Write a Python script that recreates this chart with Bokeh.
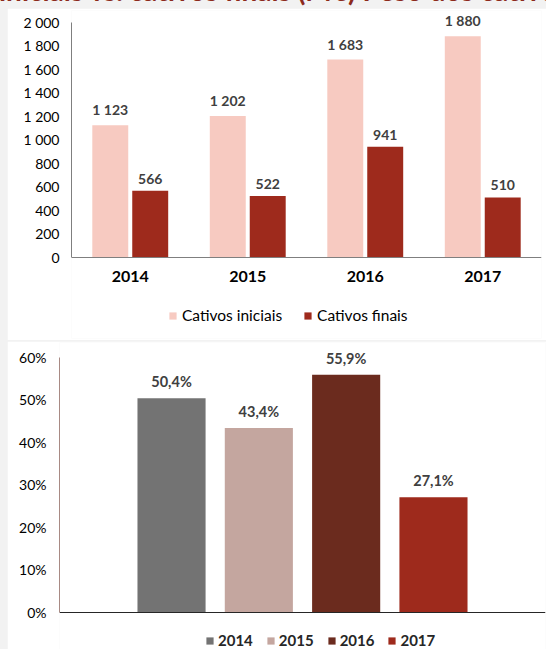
from bokeh.plotting import figure
from bokeh.models import (ColumnDataSource, FactorRange, Range1d, FixedTicker, LabelSet,
                          Legend, LegendItem, Div, PrintfTickFormatter)
from bokeh.core.properties import value
from bokeh.transform import dodge
from bokeh.layouts import column
from bokeh.embed import file_html
from bokeh.resources import INLINE

# ---------------- data ----------------
years = ["2014", "2015", "2016", "2017"]
cativos_iniciais = [1123, 1202, 1683, 1880]
cativos_finais = [566, 522, 941, 510]
peso_cativos = [50.4, 43.4, 55.9, 27.1]
y1_ticks = [0, 200, 400, 600, 800, 1000, 1200, 1400, 1600, 1800, 2000]
y2_ticks = [0, 10, 20, 30, 40, 50, 60]
series_names = ["Cativos iniciais", "Cativos finais"]
title_text = "iniciais vs. cativos finais (M€) Peso dos cativos"

FONT = "Lato"
PINK = "#f7cac1"
DARKRED = "#9e2a1c"
YEAR_COLORS = ["#737373", "#c4a69f", "#6b2b1e", "#9e2a1c"]


def pt_num(v):
    return f"{v:,}".replace(",", " ")


def pt_pct(v):
    return f"{v:.1f}%".replace(".", ",")


# ---------------- top chart ----------------
src1 = ColumnDataSource(dict(
    year=years, ini=cativos_iniciais, fin=cativos_finais,
    ini_lbl=[pt_num(v) for v in cativos_iniciais],
    fin_lbl=[pt_num(v) for v in cativos_finais],
))

p1 = figure(x_range=FactorRange(*years, range_padding=0), y_range=Range1d(-690, 2100),
            width=539, height=332, output_backend="svg", toolbar_location=None,
            min_border_left=64, min_border_right=5, min_border_top=2, min_border_bottom=2,
            background_fill_color="white", border_fill_color="white",
            outline_line_color=None, margin=(0, 0, 0, 7), frame_align=False)

r_ini = p1.vbar(x=dodge("year", -0.17, range=p1.x_range), top="ini", width=0.306,
                source=src1, fill_color=PINK, line_color=None)
r_fin = p1.vbar(x=dodge("year", 0.17, range=p1.x_range), top="fin", width=0.306,
                source=src1, fill_color=DARKRED, line_color=None)

for col, off in (("ini", -0.17), ("fin", 0.17)):
    p1.add_layout(LabelSet(x=dodge("year", off, range=p1.x_range), y=col, text=col + "_lbl",
                           source=src1, text_align="center", text_baseline="bottom",
                           y_offset=7, text_font=value(FONT), text_font_style="bold",
                           text_font_size="14px", text_color="#404040"))

p1.xgrid.visible = False
p1.ygrid.visible = False
p1.xaxis.fixed_location = 0
p1.yaxis.ticker = FixedTicker(ticks=y1_ticks)
p1.yaxis.bounds = (0, 2000)
p1.yaxis.major_label_overrides = {t: pt_num(t) for t in y1_ticks}
for ax in (p1.xaxis[0], p1.yaxis[0]):
    ax.axis_line_color = "#7f7f7f"
    ax.major_tick_line_color = None
    ax.minor_tick_line_color = None
    ax.major_tick_out = 0
    ax.minor_tick_out = 0
    ax.major_label_text_font = FONT
    ax.major_label_text_color = "#000000"
p1.yaxis.major_label_text_font_size = "14px"
p1.yaxis.major_label_standoff = 12
p1.xaxis.major_label_text_font_size = "16px"
p1.xaxis.major_label_text_font_style = "bold"
p1.xaxis.major_label_standoff = 14

leg1 = Legend(items=[LegendItem(label=series_names[0], renderers=[r_ini]),
                     LegendItem(label=series_names[1], renderers=[r_fin])],
              orientation="horizontal", location=(97, 14),
              glyph_width=9, glyph_height=9, label_standoff=5, spacing=21,
              padding=0, margin=0, label_height=16,
              border_line_color=None, background_fill_alpha=0,
              label_text_font=FONT, label_text_font_size="15.5px", label_text_color="#000000")
p1.add_layout(leg1)

# ---------------- bottom chart ----------------
src2 = ColumnDataSource(dict(year=years, peso=peso_cativos, color=YEAR_COLORS,
                             lbl=[pt_pct(v) for v in peso_cativos]))

p2 = figure(x_range=FactorRange(*years, range_padding=0.783, range_padding_units="absolute"),
            y_range=Range1d(-8.7, 63.5),
            width=539, height=308, output_backend="svg", toolbar_location=None,
            min_border_left=52, min_border_right=1, min_border_top=1, min_border_bottom=0,
            background_fill_color="white", border_fill_color="white",
            outline_line_color=None, margin=(1, 0, 0, 7), frame_align=False)

r2 = p2.vbar(x="year", top="peso", width=0.78, source=src2, fill_color="color",
             line_color=None)
p2.add_layout(LabelSet(x="year", y="peso", text="lbl", source=src2, text_align="center",
                       text_baseline="bottom", y_offset=8, text_font=value(FONT),
                       text_font_style="bold", text_font_size="14.5px", text_color="#404040"))

p2.xgrid.visible = False
p2.ygrid.visible = False
p2.yaxis.ticker = FixedTicker(ticks=y2_ticks)
p2.yaxis.bounds = (0, 60)
p2.yaxis.formatter = PrintfTickFormatter(format="%d%%")
p2.yaxis.axis_line_color = "#a88a84"
p2.yaxis.major_tick_line_color = None
p2.yaxis.minor_tick_line_color = None
p2.yaxis.major_tick_out = 0
p2.yaxis.minor_tick_out = 0
p2.yaxis.major_label_text_font = FONT
p2.yaxis.major_label_text_font_size = "14px"
p2.yaxis.major_label_text_color = "#000000"
p2.yaxis.major_label_standoff = 13
p2.xaxis.fixed_location = 0
p2.xaxis.axis_line_color = "#262626"
p2.xaxis.major_tick_line_color = None
p2.xaxis.major_tick_out = 0
p2.xaxis.major_label_text_color = None

leg2 = Legend(items=[LegendItem(label=y, renderers=[r2], index=i) for i, y in enumerate(years)],
              orientation="horizontal", location=(146, 0),
              glyph_width=9, glyph_height=9, label_standoff=4, spacing=13,
              padding=0, margin=0, label_height=16,
              border_line_color=None, background_fill_alpha=0,
              label_text_font=FONT, label_text_font_size="15px",
              label_text_font_style="bold", label_text_color="#262626")
p2.add_layout(leg2)

# ---------------- page ----------------
title = Div(text=(f'<div style="position:relative;top:-27px;left:-1px;white-space:nowrap;'
                  f'font-family:Lato;font-weight:bold;font-size:28px;line-height:34px;'
                  f'color:#8c2a1c;">{title_text}</div>'),
            width=546, height=8, margin=(0, 0, 0, 0),
            styles={"overflow": "hidden", "background-color": "#f2f2f2"})

page = column(title, p1, p2, spacing=0, styles={"background-color": "#f2f2f2"})

open("out.html", "w").write(file_html(page, INLINE))
